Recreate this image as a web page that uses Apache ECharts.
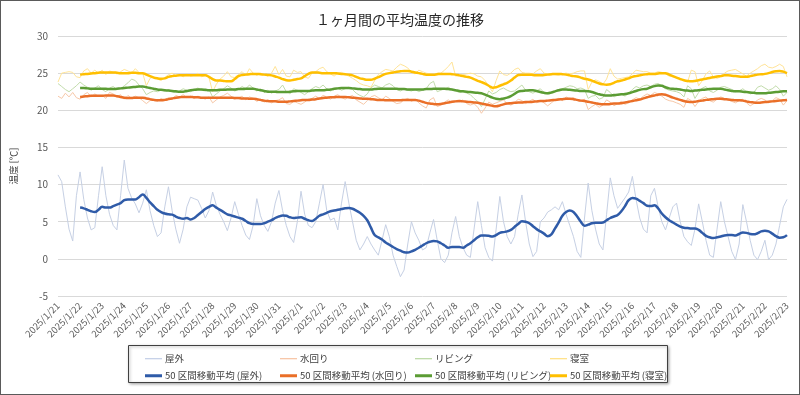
<!DOCTYPE html>
<html><head><meta charset="utf-8">
<script src="https://cdn.jsdelivr.net/npm/echarts@6/dist/echarts.min.js"></script>
<style>
html,body{margin:0;padding:0;background:#fff}
#wrap{position:relative;width:800px;height:395px}
#c{width:800px;height:395px}
#frame{position:absolute;left:0;top:0;width:800px;height:395px;box-sizing:border-box;border:1px solid #5a5a5a;pointer-events:none}
</style></head>
<body><div id="wrap"><div id="c"></div><div id="frame"></div></div>
<script>
// ---- tick labels (one per day) ----
const dayLabels = ['2025/1/21','2025/1/22','2025/1/23','2025/1/24','2025/1/25','2025/1/26','2025/1/27','2025/1/28','2025/1/29','2025/1/30','2025/1/31','2025/2/1','2025/2/2','2025/2/3','2025/2/4','2025/2/5','2025/2/6','2025/2/7','2025/2/8','2025/2/9','2025/2/10','2025/2/11','2025/2/12','2025/2/13','2025/2/14','2025/2/15','2025/2/16','2025/2/17','2025/2/18','2025/2/19','2025/2/20','2025/2/21','2025/2/22','2025/2/23'];
const hourLabels = ['0:00','4:00','8:00','12:00','16:00','20:00'];
const seriesNames = ['屋外','水回り','リビング','寝室'];
const maNames = ['50 区間移動平均 (屋外)','50 区間移動平均 (水回り)','50 区間移動平均 (リビング)','50 区間移動平均 (寝室)'];

// ---- raw readings, 6 per day ----
const outdoor = [
11.3,10.4,7.0,4.0,2.4,8.5, 11.7,8.0,5.5,3.9,4.2,8.5, 12.4,8.5,6.0,4.5,3.9,8.5, 13.3,9.5,8.2,7.4,6.2,7.5,
9.3,6.5,4.5,3.0,3.5,7.0, 9.7,6.5,4.0,2.1,4.0,7.0, 8.3,8.1,7.9,6.8,5.5,6.5, 9.0,7.2,6.0,5.0,3.8,5.5,
7.7,6.0,4.5,3.2,2.6,4.5, 8.1,5.8,4.5,3.7,5.0,7.5, 9.2,6.5,4.5,3.0,2.2,5.0, 9.1,6.0,4.5,4.2,5.0,7.5,
10.0,6.5,5.2,5.5,3.9,7.5, 10.4,7.5,5.0,2.5,1.2,2.0, 3.0,2.0,1.2,0.5,2.5,4.6, 3.0,0.5,-1.0,-2.4,-1.5,2.0,
5.0,3.5,2.5,1.2,1.5,3.5, 5.3,2.5,0.0,-0.5,0.5,3.5, 5.7,3.0,1.5,0.5,0.2,4.0, 7.7,4.5,1.5,0.2,-0.3,4.0,
8.4,5.0,3.0,2.0,3.0,6.0, 8.6,5.0,2.0,0.3,1.0,5.0, 5.5,6.3,6.6,7.0,6.6,7.7, 6.0,4.5,3.0,1.0,0.2,5.5,
10.2,6.5,4.0,2.0,1.2,6.0, 10.9,8.5,6.8,7.5,8.2,9.0, 11.1,8.0,5.5,4.0,3.5,8.5, 9.5,7.0,5.0,3.9,5.5,7.0,
7.5,5.0,3.0,2.3,1.8,4.0, 7.4,5.0,2.5,0.5,0.2,4.0, 7.7,5.0,3.0,1.0,-0.1,2.0, 7.3,5.0,2.5,0.5,-0.1,1.0,
2.5,-0.1,0.5,2.0,4.5,7.0, 8.0];
const water = [
21.9,21.6,22.3,21.8,22.4,21.7, 21.5,22.1,22.4,21.8,22.2,21.9, 22.0,21.6,22.4,22.2,21.8,22.1, 21.5,22.0,21.6,21.9,21.7,21.3,
20.9,21.3,21.5,21.2,21.6,21.4, 21.7,21.5,22.0,21.8,22.1,21.7, 21.9,21.6,21.9,21.7,21.5,21.8, 21.0,21.4,21.8,22.0,22.3,21.9,
21.5,21.7,21.9,21.4,21.8,21.6, 21.2,21.5,21.1,21.4,21.0,21.3, 21.4,21.7,20.9,20.8,21.2,21.0, 20.8,21.1,21.5,21.6,21.9,21.6,
22.0,21.8,21.5,21.9,22.1,21.7, 21.5,21.8,22.0,21.4,21.1,20.8, 21.3,21.8,22.0,21.7,21.4,21.9, 21.6,21.2,20.9,21.0,21.4,21.6,
21.2,21.5,21.0,20.6,20.3,21.4, 21.7,20.5,20.7,21.1,21.4,21.0, 21.3,21.1,21.4,20.9,20.7,20.9, 20.4,19.6,20.3,21.1,20.8,21.0,
21.2,21.4,20.9,20.7,21.0,21.5, 21.3,20.9,21.2,21.5,21.0,21.3, 21.0,20.6,21.0,21.4,21.6,21.3, 21.8,21.5,21.7,21.4,21.2,21.5,
20.1,20.5,20.8,20.4,20.7,21.4, 21.1,20.6,20.9,21.2,20.8,21.0, 21.4,21.7,21.5,21.9,22.2,22.0, 22.4,22.2,21.9,21.5,21.3,21.2,
21.0,20.8,20.4,21.6,21.3,20.5, 21.2,21.6,21.8,21.3,21.1,21.5, 21.8,21.6,21.4,21.2,21.0,21.3, 21.5,21.0,20.6,20.9,21.4,21.6,
21.4,21.0,21.3,21.7,21.5,20.7, 21.3];
const living = [
23.6,23.2,22.8,22.5,22.9,23.3, 23.8,23.4,23.1,22.7,23.0,23.3, 22.8,22.5,23.0,23.2,22.8,22.9, 23.3,23.7,24.2,24.0,23.4,22.9,
22.1,22.4,22.6,22.5,22.7,22.6, 22.8,22.5,22.4,22.6,22.9,22.7, 22.5,22.8,23.0,22.7,22.6,22.8, 21.8,22.2,22.6,22.9,23.3,23.0,
22.6,22.8,23.2,22.9,23.4,23.0, 22.6,22.9,22.4,22.7,22.3,22.6, 22.8,23.4,22.5,22.2,22.9,22.7, 22.4,22.1,22.5,22.9,23.2,23.0,
23.4,22.9,22.6,22.8,23.0,22.7, 22.9,23.1,22.8,22.3,22.0,21.8, 22.2,23.0,23.4,23.2,23.0,23.4, 23.6,23.3,22.8,22.6,22.9,22.7,
22.6,22.8,22.5,22.7,22.9,23.6, 23.9,22.5,22.7,22.9,23.1,22.8, 22.6,22.4,22.5,22.3,22.1,21.6, 21.2,20.5,21.5,22.6,22.2,22.4,
22.8,23.0,22.7,22.5,22.6,23.0, 23.4,22.7,22.5,22.3,22.6,22.9, 22.4,22.2,22.4,22.6,22.8,22.9, 23.1,23.3,23.2,22.9,23.0,22.8,
21.6,21.9,22.0,21.5,21.7,22.8, 22.4,21.8,22.0,22.2,21.9,22.3, 22.8,23.2,23.0,23.3,23.4,23.2, 23.5,23.6,23.3,22.9,22.7,22.6,
22.5,22.3,21.8,23.3,22.9,21.6, 22.4,23.0,23.2,22.6,22.4,22.7, 23.1,23.2,23.0,22.8,22.5,22.6, 22.9,22.5,22.2,22.4,23.1,23.3,
23.0,22.7,22.9,23.3,22.8,21.9, 22.4];
const bedroom = [
23.8,25.0,25.1,25.2,25.1,24.5, 24.4,25.3,25.6,25.0,25.4,25.0, 25.4,24.8,25.3,25.1,24.9,25.2, 25.5,25.3,25.0,25.6,25.1,25.0,
23.3,24.3,24.5,24.2,24.0,24.4, 24.8,25.0,24.6,24.8,24.5,24.9, 24.6,24.7,25.0,24.5,24.7,24.4, 22.5,23.5,24.2,24.6,25.2,24.5,
24.4,24.8,25.2,24.7,25.6,25.0, 24.7,25.0,24.8,24.6,25.0,25.9, 24.8,25.5,24.6,24.5,25.4,25.1, 25.2,24.5,24.3,25.0,25.2,25.6,
25.8,25.2,24.9,24.6,25.0,25.1, 24.8,24.6,24.3,24.0,23.6,23.4, 23.3,23.1,24.0,24.8,25.2,25.5, 25.4,25.3,25.8,26.2,26.0,25.7,
25.1,24.9,25.4,25.2,25.0,24.9, 24.8,25.0,25.0,25.4,25.9,26.5, 24.6,24.7,24.8,24.9,25.0,24.9, 24.6,24.5,24.0,23.2,22.5,24.0,
25.3,24.8,24.7,25.0,25.5,25.7, 25.1,25.0,25.0,24.9,25.3,25.6, 25.0,24.9,24.8,24.8,24.7,24.9, 25.0,24.9,25.0,25.2,25.3,25.3,
22.8,23.8,24.1,23.9,23.5,24.2, 25.6,24.6,24.2,24.3,24.4,24.5, 24.9,25.4,25.3,25.2,25.2,25.0, 25.0,25.2,25.1,24.9,24.6,24.5,
24.4,24.3,24.0,23.8,25.4,25.2, 23.3,24.0,24.9,25.3,24.5,24.3, 24.5,25.0,25.3,25.4,25.5,25.2, 24.9,24.6,25.0,25.3,25.6,26.0,
26.2,25.8,25.7,25.9,26.2,25.9, 24.5];

// ---- 50-interval moving averages, 6 per day, start after day 1 ----
const outdoorMA = [
null,null,null,null,null,null,
6.9,6.8,6.6,6.4,6.3,6.6, 7.0,6.9,6.9,7.1,7.3,7.5, 7.9,8.0,8.0,8.0,8.3,8.65, 8.2,7.6,7.1,6.6,6.3,6.1,
6.0,5.95,5.7,5.5,5.4,5.5, 5.3,5.5,5.9,6.3,6.7,7.0, 7.2,6.9,6.6,6.3,6.0,5.85, 5.7,5.55,5.4,5.1,4.8,4.7,
4.7,4.7,4.8,5.0,5.2,5.5, 5.7,5.85,5.8,5.6,5.5,5.55, 5.6,5.4,5.2,5.1,5.4,5.8, 6.0,6.2,6.4,6.5,6.6,6.7,
6.8,6.85,6.75,6.5,6.2,5.8, 5.2,4.2,3.2,2.9,2.6,2.2, 1.9,1.6,1.3,1.1,0.9,0.85, 1.0,1.2,1.5,1.8,2.1,2.3,
2.4,2.35,2.1,1.8,1.5,1.6, 1.6,1.6,1.5,1.8,2.1,2.5, 2.9,3.15,3.15,3.1,3.0,3.2, 3.5,3.6,3.7,3.9,4.3,4.7,
5.05,5.0,4.8,4.4,4.0,3.7, 3.4,3.05,3.3,4.1,4.9,5.8, 6.3,6.5,6.3,5.7,5.0,4.45, 4.6,4.8,4.85,4.85,4.9,5.2,
5.5,5.7,5.9,6.4,7.1,7.9, 8.2,8.1,7.8,7.5,7.15,7.1, 7.2,6.8,6.1,5.6,5.2,4.9, 4.6,4.35,4.2,4.15,4.1,4.1,
3.9,3.5,3.1,2.9,2.8,2.9, 3.0,3.15,3.2,3.2,3.15,3.35, 3.55,3.5,3.35,3.3,3.45,3.7, 3.8,3.7,3.4,3.05,2.85,2.9,
3.2];
const waterMA = [
null,null,null,null,null,null,
21.8,21.85,21.9,21.95,21.95,21.95, 21.95,22.0,22.0,22.0,21.9,21.8, 21.7,21.65,21.65,21.7,21.7,21.7, 21.6,21.5,21.4,21.35,21.35,21.4,
21.5,21.6,21.7,21.75,21.8,21.8, 21.8,21.75,21.75,21.7,21.7,21.7, 21.7,21.7,21.7,21.7,21.7,21.7, 21.65,21.65,21.6,21.6,21.55,21.55,
21.5,21.4,21.3,21.25,21.2,21.2, 21.15,21.15,21.15,21.2,21.25,21.3, 21.35,21.4,21.4,21.45,21.5,21.6, 21.65,21.7,21.75,21.75,21.8,21.8,
21.8,21.75,21.7,21.65,21.6,21.55, 21.55,21.5,21.45,21.4,21.4,21.35, 21.35,21.35,21.35,21.35,21.4,21.4, 21.4,21.4,21.3,21.15,21.0,20.9,
20.85,20.8,20.85,20.95,21.05,21.15, 21.2,21.25,21.2,21.15,21.1,21.05, 21.0,20.9,20.8,20.7,20.6,20.55, 20.65,20.8,20.9,20.95,21.0,21.05,
21.05,21.1,21.1,21.15,21.2,21.25, 21.25,21.3,21.35,21.4,21.45,21.5, 21.55,21.55,21.5,21.4,21.3,21.25, 21.15,21.05,20.95,20.85,20.8,20.8,
20.85,20.9,20.9,20.95,21.05,21.15, 21.25,21.35,21.45,21.6,21.75,21.9, 22.0,22.1,22.15,22.1,21.9,21.7, 21.55,21.4,21.25,21.15,21.1,21.15,
21.25,21.3,21.4,21.45,21.5,21.55, 21.55,21.5,21.45,21.4,21.35,21.35, 21.3,21.2,21.1,21.05,21.0,21.05, 21.1,21.15,21.2,21.25,21.3,21.35,
21.4];
const livingMA = [
null,null,null,null,null,null,
23.0,23.0,22.95,22.9,22.9,22.9, 22.9,22.9,22.85,22.85,22.9,22.95, 23.0,23.05,23.1,23.15,23.2,23.2, 23.1,23.0,22.9,22.8,22.75,22.7,
22.65,22.6,22.55,22.5,22.5,22.6, 22.7,22.75,22.8,22.8,22.75,22.7, 22.7,22.7,22.75,22.75,22.8,22.8, 22.8,22.85,22.85,22.9,22.9,22.9,
22.8,22.7,22.6,22.5,22.5,22.5, 22.45,22.45,22.45,22.5,22.55,22.6, 22.6,22.6,22.6,22.65,22.7,22.7, 22.7,22.75,22.8,22.9,22.95,23.0,
23.0,23.0,22.95,22.9,22.85,22.8, 22.8,22.8,22.85,22.9,22.9,22.9, 22.9,22.9,22.9,22.85,22.85,22.8, 22.8,22.8,22.8,22.8,22.85,22.85,
22.9,22.9,22.9,22.9,22.85,22.8, 22.7,22.6,22.55,22.5,22.45,22.4, 22.35,22.3,22.1,21.9,21.7,21.55, 21.5,21.6,21.7,21.9,22.2,22.5,
22.6,22.65,22.7,22.7,22.6,22.45, 22.35,22.3,22.4,22.55,22.7,22.8, 22.8,22.75,22.7,22.65,22.6,22.6, 22.55,22.45,22.3,22.15,22.05,22.0,
22.0,22.05,22.1,22.15,22.2,22.3, 22.45,22.6,22.75,22.85,22.9,23.1, 23.25,23.35,23.3,23.1,22.95,22.9, 22.85,22.8,22.7,22.65,22.6,22.65,
22.7,22.75,22.8,22.85,22.9,22.9, 22.9,22.8,22.7,22.6,22.55,22.55, 22.5,22.45,22.4,22.35,22.3,22.3, 22.3,22.35,22.4,22.45,22.5,22.55,
22.55];
const bedroomMA = [
null,null,null,null,null,null,
24.8,24.85,24.9,24.95,25.0,25.05, 25.1,25.1,25.1,25.1,25.05,25.0, 25.0,25.0,25.05,25.05,25.0,25.0, 24.8,24.6,24.4,24.3,24.25,24.3,
24.5,24.6,24.65,24.7,24.7,24.7, 24.7,24.7,24.7,24.7,24.7,24.5, 24.2,24.0,24.0,23.95,23.9,23.9, 24.2,24.6,24.75,24.8,24.85,24.9,
24.9,24.85,24.8,24.75,24.7,24.55, 24.4,24.2,24.05,24.0,24.1,24.2, 24.3,24.6,24.9,25.1,25.1,25.05, 25.0,25.0,25.0,25.0,24.95,24.9,
24.85,24.8,24.7,24.5,24.3,24.2, 24.1,24.1,24.25,24.45,24.7,24.9, 25.0,25.1,25.2,25.25,25.3,25.3, 25.2,25.1,25.0,24.9,24.8,24.8,
24.8,24.85,24.9,24.9,24.9,24.85, 24.8,24.7,24.6,24.5,24.4,24.2, 23.95,23.8,23.6,23.3,23.05,23.1, 23.3,23.5,23.7,24.0,24.4,24.75,
24.8,24.8,24.8,24.75,24.7,24.7, 24.75,24.8,24.85,24.9,24.9,24.85, 24.8,24.7,24.6,24.55,24.4,24.25, 24.15,24.0,23.8,23.6,23.5,23.45,
23.5,23.7,23.9,24.0,24.15,24.3, 24.5,24.6,24.7,24.8,24.85,24.9, 24.9,24.95,25.0,25.0,24.8,24.6, 24.4,24.2,24.05,23.95,23.9,23.95,
24.05,24.15,24.25,24.35,24.45,24.55, 24.6,24.7,24.7,24.65,24.6,24.55, 24.5,24.5,24.6,24.7,24.8,24.85, 24.9,25.0,25.15,25.25,25.3,25.2,
25.0];

// ---- build category axis from day/hour labels ----
const categories = outdoor.map((_, i) => dayLabels[Math.floor(i / hourLabels.length)] + ' ' + hourLabels[i % hourLabels.length]);

const rawColors = ['#c6d0e4', '#f7c8a8', '#c2dcab', '#ffe497'];
const legendRawColors = ['#b4c3e0', '#f4b48c', '#a9cf8e', '#ffd966'];
const maColors = ['#2f5ba8', '#ea6f28', '#5b9c34', '#ffbf00'];
const rawData = [outdoor, water, living, bedroom];
const maData = [outdoorMA, waterMA, livingMA, bedroomMA];

const FONT = '"Noto Sans CJK JP", "Noto Sans", sans-serif';
const series = [];
rawData.forEach((d, k) => series.push({
  name: seriesNames[k], type: 'line', data: d, showSymbol: false, symbol: 'none',
  lineStyle: { width: 1, color: rawColors[k] }, itemStyle: { color: rawColors[k] }, z: 2
}));
maData.forEach((d, k) => series.push({
  name: maNames[k], type: 'line', data: d, showSymbol: false, symbol: 'none', smooth: 0.4,
  lineStyle: { width: 2.5, color: maColors[k] }, itemStyle: { color: maColors[k] }, z: 3
}));

const legendLefts = [140, 275, 410, 545];
const legendText = { fontSize: 9.5, color: '#404040', fontFamily: FONT, padding: [0, 0, 0, -2] };
const legends = [];
legendLefts.forEach((l, k) => {
  legends.push({
    left: l, top: 349, itemWidth: 17, itemHeight: 1, icon: 'rect', itemGap: 0,
    data: [{ name: seriesNames[k], itemStyle: { color: legendRawColors[k] } }], selectedMode: false,
    textStyle: legendText
  });
  legends.push({
    left: l, top: 366, itemWidth: 17, itemHeight: 3, icon: 'rect', itemGap: 0,
    data: [{ name: maNames[k], itemStyle: { color: maColors[k] } }], selectedMode: false,
    textStyle: legendText
  });
});

const chart = echarts.init(document.getElementById('c'), null, { renderer: 'canvas' });
chart.setOption({
  animation: false,
  backgroundColor: '#fff',
  textStyle: { fontFamily: FONT },
  title: {
    text: '１ヶ月間の平均温度の推移', left: 'center', top: 8,
    textStyle: { fontSize: 14, fontWeight: 'normal', color: '#262626', fontFamily: FONT }
  },
  grid: { left: 58, right: 13, top: 36, bottom: 99, containLabel: false },
  xAxis: {
    type: 'category', data: categories, boundaryGap: false,
    axisLine: { show: false }, axisTick: { show: false },
    axisLabel: {
      interval: hourLabels.length - 1, rotate: 45, margin: 8, fontSize: 9.5, color: '#595959', fontFamily: FONT,
      formatter: v => v.split(' ')[0]
    },
    splitLine: { show: false }
  },
  yAxis: {
    type: 'value', min: -5, max: 30, interval: 5,
    name: '温度 [℃]', nameLocation: 'middle', nameGap: 40, nameRotate: 90,
    nameTextStyle: { fontSize: 9.5, color: '#404040', fontFamily: FONT },
    axisLine: { show: false }, axisTick: { show: false },
    axisLabel: { fontSize: 10, color: '#595959', margin: 10, fontFamily: FONT },
    splitLine: { lineStyle: { color: '#d9d9d9', width: 1 } }
  },
  legend: legends,
  graphic: [{
    type: 'rect', left: 128, top: 345, z: 0,
    shape: { x: 0, y: 0, width: 539, height: 37 },
    style: { fill: '#fff', stroke: '#404040', lineWidth: 1, shadowBlur: 3, shadowColor: 'rgba(0,0,0,0.35)', shadowOffsetX: 1, shadowOffsetY: 1 }
  }],
  series: series
});
</script></body></html>
